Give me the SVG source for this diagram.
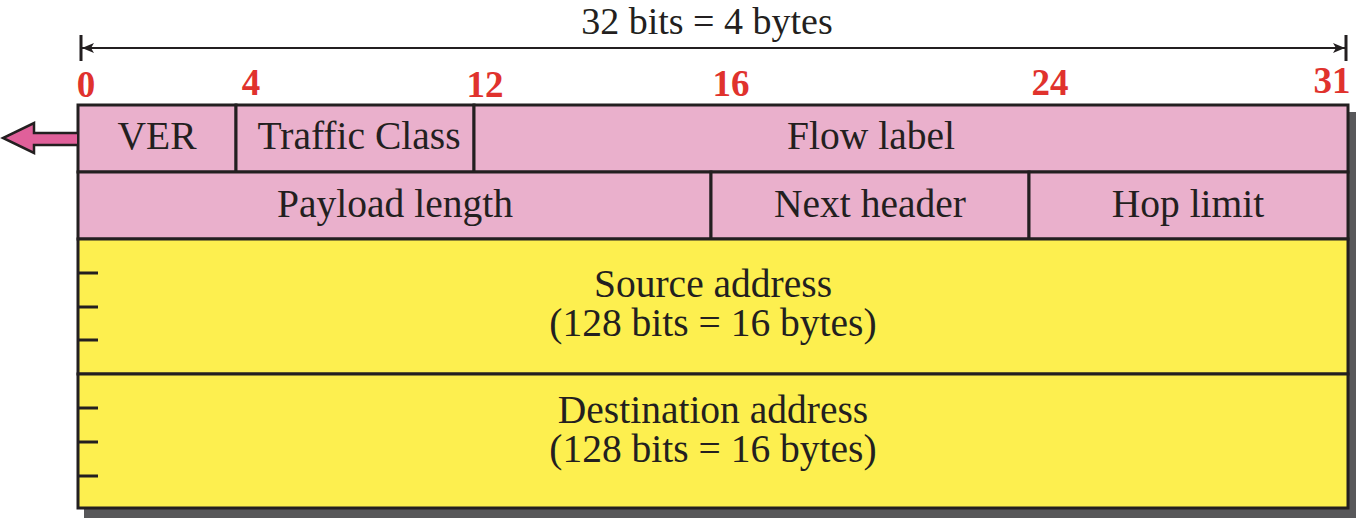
<svg xmlns="http://www.w3.org/2000/svg" width="1357" height="519" viewBox="0 0 1357 519">
<style>
.lbl{font-family:"Liberation Serif","Times New Roman",serif;font-size:39.5px;fill:#231f20;text-anchor:middle}
.ttl{font-family:"Liberation Serif","Times New Roman",serif;font-size:38px;fill:#231f20;text-anchor:middle}
.num{font-family:"Liberation Serif","Times New Roman",serif;font-size:37px;font-weight:bold;fill:#e0322d;text-anchor:middle}
.pink{fill:#eab0cc;stroke:#231f20;stroke-width:3}
.yel{fill:#fdef4f;stroke:#231f20;stroke-width:3}
.ln{stroke:#231f20;stroke-width:3;fill:none}
.dim{stroke:#231f20;stroke-width:2;fill:none}
</style>
<defs>
<marker id="ah" viewBox="0 0 12 10" refX="12" refY="5" markerWidth="12" markerHeight="10" markerUnits="userSpaceOnUse" orient="auto-start-reverse">
<path d="M0,0 L12,5 L0,10 L3,5 Z" fill="#231f20"/>
</marker>
</defs>
<rect x="84" y="112" width="1272" height="406" fill="#58585a"/>
<g id="dimension">
<line class="dim" x1="82" y1="48" x2="1345" y2="48" marker-start="url(#ah)" marker-end="url(#ah)"/>
<line class="ln" x1="81" y1="35" x2="81" y2="61"/>
<line class="ln" x1="1346" y1="35" x2="1346" y2="61"/>
<text class="ttl" x="707" y="34">32 bits = 4 bytes</text>
</g>
<g id="bit-numbers">
<text class="num" x="86" y="97">0</text>
<text class="num" x="251" y="95">4</text>
<text class="num" x="485" y="97">12</text>
<text class="num" x="731" y="96">16</text>
<text class="num" x="1050" y="95">24</text>
<text class="num" x="1332" y="93">31</text>
</g>
<g id="ver"><rect class="pink" x="78" y="105" width="158" height="67"/><text class="lbl" x="157" y="149">VER</text></g>
<g id="traffic-class"><rect class="pink" x="236" y="105" width="238" height="67"/><text class="lbl" x="359" y="149">Traffic Class</text></g>
<g id="flow-label"><rect class="pink" x="474" y="105" width="874" height="67"/><text class="lbl" x="871" y="149">Flow label</text></g>
<g id="payload-length"><rect class="pink" x="78" y="172" width="633" height="67"/><text class="lbl" x="395" y="217">Payload length</text></g>
<g id="next-header"><rect class="pink" x="711" y="172" width="318" height="67"/><text class="lbl" x="870" y="217">Next header</text></g>
<g id="hop-limit"><rect class="pink" x="1029" y="172" width="319" height="67"/><text class="lbl" x="1188" y="217">Hop limit</text></g>
<g id="source-address"><rect class="yel" x="78" y="239" width="1270" height="135"/>
<line class="ln" x1="78" y1="273" x2="98" y2="273"/><line class="ln" x1="78" y1="307" x2="98" y2="307"/><line class="ln" x1="78" y1="340" x2="98" y2="340"/>
<text class="lbl" x="713" y="297">Source address<tspan x="713" dy="39">(128 bits = 16 bytes)</tspan></text></g>
<g id="destination-address"><rect class="yel" x="78" y="374" width="1270" height="134"/>
<line class="ln" x1="78" y1="408" x2="98" y2="408"/><line class="ln" x1="78" y1="442" x2="98" y2="442"/><line class="ln" x1="78" y1="476" x2="98" y2="476"/>
<text class="lbl" x="713" y="423">Destination address<tspan x="713" dy="39">(128 bits = 16 bytes)</tspan></text></g>
<g id="connectors">
<path d="M77,133 L34,133 L34,123 L3,138 L34,153 L34,145 L77,145" fill="#e0609a" stroke="#231f20" stroke-width="2.5" stroke-linejoin="miter"/>
</g>
</svg>
